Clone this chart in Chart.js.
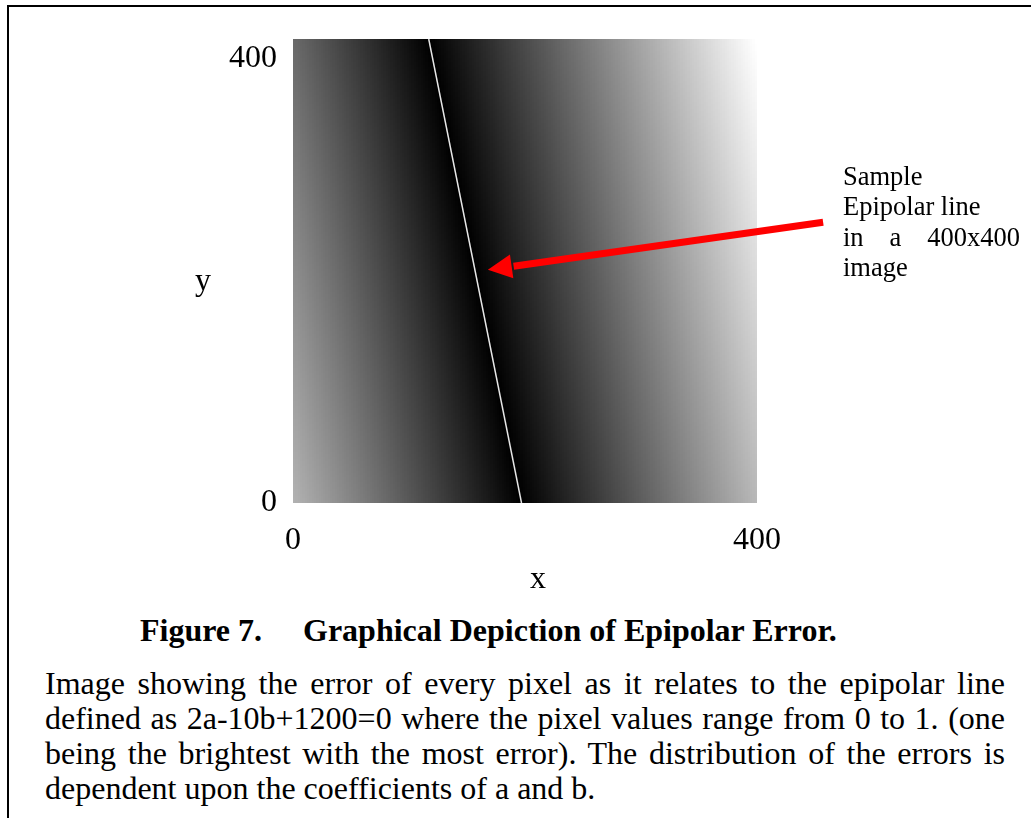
<!DOCTYPE html>
<html>
<head>
<meta charset="utf-8">
<script src="https://cdn.jsdelivr.net/npm/chart.js@4.4.1/dist/chart.umd.min.js"></script>
<style>
  html, body { margin: 0; padding: 0; background: #fff; }
  body { width: 1031px; height: 818px; position: relative; overflow: hidden;
         font-family: 'Liberation Serif', 'Times New Roman', serif; color: #000; }
  #frame { position: absolute; left: 7px; top: 5px; width: 1100px; height: 900px;
           border-top: 2px solid #000; border-left: 2px solid #000; }
  #chartBox { position: absolute; left: 0; top: 0; width: 1031px; height: 600px; }
  .ann { position: absolute; left: 843px; font-size: 26.5px; line-height: 30.5px; white-space: nowrap; }
  .ann.just { width: 177px; text-align: justify; text-align-last: justify; white-space: normal; }
  .capt { position: absolute; top: 612.5px; font-weight: bold; font-size: 32px; line-height: 35.3px; white-space: nowrap; }
  .bl { position: absolute; left: 45px; width: 960px; font-size: 32px; line-height: 35.3px;
        text-align: justify; text-align-last: justify; }
  .bl.last { text-align: left; text-align-last: left; }
</style>
</head>
<body>
<div id="frame"></div>
<div id="chartBox"><canvas id="c" width="1031" height="600"></canvas></div>

<div class="ann" style="top:160.8px">Sample</div>
<div class="ann" style="top:191.3px">Epipolar line</div>
<div class="ann just" style="top:221.8px">in a 400x400</div>
<div class="ann" style="top:252.3px">image</div>

<div class="capt" style="left:140px">Figure 7.</div>
<div class="capt" style="left:303px">Graphical Depiction of Epipolar Error.</div>

<div class="bl" style="top:665.5px">Image showing the error of every pixel as it relates to the epipolar line</div>
<div class="bl" style="top:700.8px">defined as 2a-10b+1200=0 where the pixel values range from 0 to 1. (one</div>
<div class="bl" style="top:736.1px">being the brightest with the most error). The distribution of the errors is</div>
<div class="bl last" style="top:771.4px">dependent upon the coefficients of a and b.</div>

<script>
// ---- data ----
const imageSize   = [400, 400];          // image width, height (pixels)
const xTickValues = [0, 400];
const xTickLabels = ['0', '400'];
const yTickValues = [0, 400];
const yTickLabels = ['0', '400'];
const axisTitles  = ['x', 'y'];
const lineYs      = [0, 400];            // epipolar line: y at its two ends
const lineXs      = [197, 117];          // epipolar line: x at its two ends
const arrowXs     = [457, 168];          // annotation arrow: tail, head
const arrowYs     = [242, 201];
const cellStep    = 2;                   // heat-map cell size in image pixels

// error of every pixel = distance from the epipolar line, normalised to 0..1
function lineXAt(y) {
  return lineXs[0] + (lineXs[1] - lineXs[0]) * (y - lineYs[0]) / (lineYs[1] - lineYs[0]);
}
const errorGrid = [];
let maxErr = 0;
for (let y = 0; y < imageSize[1]; y += cellStep) {
  const row = [];
  for (let x = 0; x < imageSize[0]; x += cellStep) {
    const e = Math.abs(x + cellStep / 2 - lineXAt(y + cellStep / 2));
    row.push(e);
    if (e > maxErr) maxErr = e;
  }
  errorGrid.push(row);
}

const FONT = "'Liberation Serif', 'Times New Roman', serif";
Chart.defaults.font.family = FONT;
Chart.defaults.color = '#000';

const heatmap = {
  id: 'heatmap',
  beforeDatasetsDraw(chart) {
    const { ctx, scales: { x, y } } = chart;
    ctx.save();
    errorGrid.forEach((row, j) => {
      const yv = j * cellStep;
      const py0 = Math.round(y.getPixelForValue(yv + cellStep));
      const py1 = Math.round(y.getPixelForValue(yv));
      row.forEach((e, i) => {
        const xv = i * cellStep;
        const px0 = Math.round(x.getPixelForValue(xv));
        const px1 = Math.round(x.getPixelForValue(xv + cellStep));
        const g = Math.round(255 * e / maxErr);
        ctx.fillStyle = 'rgb(' + g + ',' + g + ',' + g + ')';
        ctx.fillRect(px0, py0, px1 - px0, py1 - py0);
      });
    });
    ctx.restore();
  }
};

const arrow = {
  id: 'arrow',
  afterDatasetsDraw(chart) {
    const { ctx, scales: { x, y } } = chart;
    const tx = x.getPixelForValue(arrowXs[0]), ty = y.getPixelForValue(arrowYs[0]);
    const hx = x.getPixelForValue(arrowXs[1]), hy = y.getPixelForValue(arrowYs[1]);
    const len = Math.hypot(tx - hx, ty - hy);
    const ux = (tx - hx) / len, uy = (ty - hy) / len;
    const headLen = 24, headHalf = 12;
    const bx = hx + ux * headLen, by = hy + uy * headLen;
    ctx.save();
    ctx.strokeStyle = '#ff0000';
    ctx.fillStyle = '#ff0000';
    ctx.lineWidth = 7;
    ctx.beginPath();
    ctx.moveTo(tx, ty);
    ctx.lineTo(bx + ux * 2, by + uy * 2);
    ctx.stroke();
    ctx.beginPath();
    ctx.moveTo(hx, hy);
    ctx.lineTo(bx - uy * headHalf, by + ux * headHalf);
    ctx.lineTo(bx + uy * headHalf, by - ux * headHalf);
    ctx.closePath();
    ctx.fill();
    ctx.restore();
  }
};

const axisTitle = {
  id: 'axisTitle',
  afterDraw(chart) {
    const { ctx, chartArea: a } = chart;
    ctx.save();
    ctx.font = '32px ' + FONT;
    ctx.fillStyle = '#000';
    ctx.textAlign = 'center';
    ctx.textBaseline = 'alphabetic';
    ctx.fillText(axisTitles[0], (a.left + a.right) / 2 + 13, a.bottom + 85);
    ctx.fillText(axisTitles[1], a.left - 90, (a.top + a.bottom) / 2 + 19);
    ctx.restore();
  }
};

new Chart(document.getElementById('c'), {
  type: 'scatter',
  data: {
    datasets: [{
      label: 'Epipolar line',
      type: 'line',
      data: lineXs.map((v, i) => ({ x: v, y: lineYs[i] })),
      borderColor: '#e6e6e6',
      borderWidth: 1.5,
      pointRadius: 0,
      showLine: true,
      fill: false
    }]
  },
  options: {
    responsive: false,
    animation: false,
    events: [],
    layout: { padding: { top: 39, right: 274, left: 0, bottom: 0 } },
    plugins: { legend: { display: false }, tooltip: { enabled: false } },
    scales: {
      x: {
        type: 'linear', min: 0, max: imageSize[0], offset: false,
        grid: { display: false, drawTicks: false },
        border: { display: false },
        afterBuildTicks: s => { s.ticks = xTickValues.map(v => ({ value: v })); },
        afterFit: s => { s.height = 97; s.paddingLeft = 0; s.paddingRight = 0; },
        ticks: {
          font: { size: 32 }, color: '#000', padding: 18, maxRotation: 0, autoSkip: false,
          callback: v => xTickLabels[xTickValues.indexOf(v)]
        }
      },
      y: {
        type: 'linear', min: 0, max: imageSize[1], offset: false,
        grid: { display: false, drawTicks: false },
        border: { display: false },
        afterBuildTicks: s => { s.ticks = yTickValues.map(v => ({ value: v })); },
        afterFit: s => { s.width = 293; s.paddingTop = 0; s.paddingBottom = 0; },
        ticks: {
          font: { size: 32 }, color: '#000', padding: 16, autoSkip: false,
          callback: v => {
            const i = yTickValues.indexOf(v);
            return i === yTickValues.length - 1 ? ['', yTickLabels[i]] : yTickLabels[i];
          }
        }
      }
    }
  },
  plugins: [heatmap, arrow, axisTitle]
});
</script>
</body>
</html>
